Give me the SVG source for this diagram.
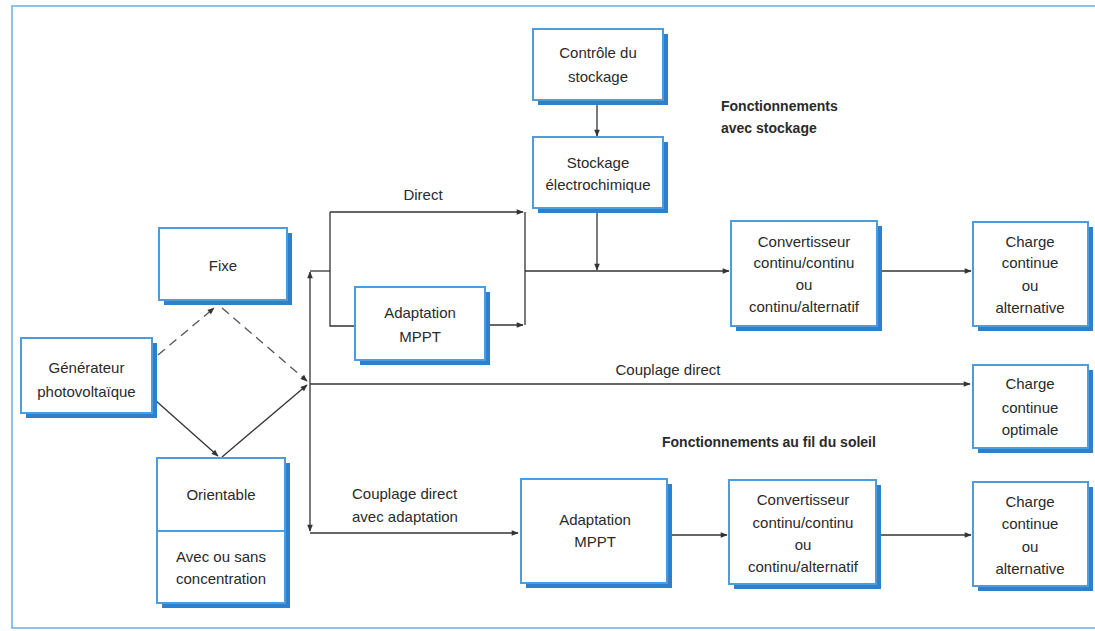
<svg xmlns="http://www.w3.org/2000/svg" width="1095" height="631" viewBox="0 0 1095 631">
<style>
.sh{fill:#2f80cc}
.bx{fill:#fff;stroke:#4b9ddf;stroke-width:2}
.t{font-family:"Liberation Sans",Arial,sans-serif;font-size:15px;fill:#2a2a2a;text-anchor:middle}
.tl{font-family:"Liberation Sans",Arial,sans-serif;font-size:15px;fill:#2a2a2a}
.b{font-family:"Liberation Sans",Arial,sans-serif;font-size:14px;font-weight:bold;fill:#2a2a2a}
.ln{fill:none;stroke:#333;stroke-width:1.3}
.ar{fill:none;stroke:#333;stroke-width:1.3;marker-end:url(#ah)}
.da{fill:none;stroke:#555;stroke-width:1.3;stroke-dasharray:9 6;marker-end:url(#ah)}
</style>
<defs>
<marker id="ah" viewBox="0 0 10 10" refX="9" refY="5" markerWidth="9" markerHeight="7" markerUnits="userSpaceOnUse" orient="auto">
<path d="M0,1 L10,5 L0,9 z" fill="#333"/>
</marker>
</defs>
<rect width="1095" height="631" fill="#fff"/>
<rect x="12" y="6" width="1100" height="622" fill="none" stroke="#72b3e2" stroke-width="1.6"/>

<g id="connectors">
<path class="da" d="M158,355 L214,308"/>
<path class="da" d="M222,308 L307,381"/>
<path class="ar" d="M155,400 L218,456"/>
<path class="ar" d="M222,457 L307,385"/>
<path class="ar" d="M310,383 L310,272"/>
<path class="ln" d="M310,271 H330"/>
<path class="ar" d="M310,383 L310,531"/>
<path class="ar" d="M310,533 H518"/>
<path class="ar" d="M310,384 H970"/>
<path class="ln" d="M330,212 V326 H355"/>
<path class="ar" d="M330,212 H523"/>
<path class="ar" d="M487,325 H523"/>
<path class="ln" d="M525,212 V325"/>
<path class="ar" d="M525,271 H729"/>
<path class="ar" d="M597,208 V270"/>
<path class="ar" d="M597,104 V136"/>
<path class="ar" d="M880,271 H971"/>
<path class="ar" d="M670,535 H727"/>
<path class="ar" d="M880,535 H971"/>
</g>

<g id="generateur">
<rect class="sh" x="26" y="343" width="131" height="75"/>
<rect class="bx" x="21" y="338" width="131" height="75"/>
<text class="t" x="86.5" y="373">Générateur</text>
<text class="t" x="86.5" y="397">photovoltaïque</text>
</g>
<g id="fixe">
<rect class="sh" x="164" y="233" width="128" height="72"/>
<rect class="bx" x="159" y="228" width="128" height="72"/>
<text class="t" x="223" y="271">Fixe</text>
</g>
<g id="orientable">
<rect class="sh" x="162" y="463" width="128" height="145"/>
<rect class="bx" x="157" y="458" width="128" height="145"/>
<line x1="157" y1="531" x2="285" y2="531" stroke="#4b9ddf" stroke-width="2"/>
<text class="t" x="221" y="500">Orientable</text>
<text class="t" x="221" y="562">Avec ou sans</text>
<text class="t" x="221" y="584">concentration</text>
</g>
<g id="controle">
<rect class="sh" x="538" y="34" width="130" height="71"/>
<rect class="bx" x="533" y="29" width="130" height="71"/>
<text class="t" x="598" y="58">Contrôle du</text>
<text class="t" x="598" y="82">stockage</text>
</g>
<g id="stockage">
<rect class="sh" x="538" y="142" width="130" height="71"/>
<rect class="bx" x="533" y="137" width="130" height="71"/>
<text class="t" x="598" y="168">Stockage</text>
<text class="t" x="598" y="190">électrochimique</text>
</g>
<g id="adaptation1">
<rect class="sh" x="360" y="292" width="130" height="73"/>
<rect class="bx" x="355" y="287" width="130" height="73"/>
<text class="t" x="420" y="318">Adaptation</text>
<text class="t" x="420" y="342">MPPT</text>
</g>
<g id="convertisseur1">
<rect class="sh" x="736" y="226" width="146" height="105"/>
<rect class="bx" x="731" y="221" width="146" height="105"/>
<text class="t" x="804" y="247">Convertisseur</text>
<text class="t" x="804" y="268">continu/continu</text>
<text class="t" x="804" y="290">ou</text>
<text class="t" x="804" y="312">continu/alternatif</text>
</g>
<g id="charge1">
<rect class="sh" x="978" y="227" width="115" height="104"/>
<rect class="bx" x="973" y="222" width="115" height="104"/>
<text class="t" x="1030" y="247">Charge</text>
<text class="t" x="1030" y="268">continue</text>
<text class="t" x="1030" y="291">ou</text>
<text class="t" x="1030" y="313">alternative</text>
</g>
<g id="chargeOptimale">
<rect class="sh" x="978" y="370" width="115" height="83"/>
<rect class="bx" x="973" y="365" width="115" height="83"/>
<text class="t" x="1030" y="389">Charge</text>
<text class="t" x="1030" y="413">continue</text>
<text class="t" x="1030" y="435">optimale</text>
</g>
<g id="adaptation2">
<rect class="sh" x="526" y="484" width="146" height="104"/>
<rect class="bx" x="521" y="479" width="146" height="104"/>
<text class="t" x="595" y="525">Adaptation</text>
<text class="t" x="595" y="547">MPPT</text>
</g>
<g id="convertisseur2">
<rect class="sh" x="734" y="485" width="147" height="104"/>
<rect class="bx" x="729" y="480" width="147" height="104"/>
<text class="t" x="803" y="505">Convertisseur</text>
<text class="t" x="803" y="528">continu/continu</text>
<text class="t" x="803" y="550">ou</text>
<text class="t" x="803" y="572">continu/alternatif</text>
</g>
<g id="charge2">
<rect class="sh" x="978" y="487" width="115" height="104"/>
<rect class="bx" x="973" y="482" width="115" height="104"/>
<text class="t" x="1030" y="507">Charge</text>
<text class="t" x="1030" y="529">continue</text>
<text class="t" x="1030" y="552">ou</text>
<text class="t" x="1030" y="574">alternative</text>
</g>

<g id="labels">
<text class="t" x="423" y="200">Direct</text>
<text class="t" x="668" y="375">Couplage direct</text>
<text class="tl" x="352" y="499">Couplage direct</text>
<text class="tl" x="352" y="522">avec adaptation</text>
<text class="b" x="721" y="111">Fonctionnements</text>
<text class="b" x="721" y="133">avec stockage</text>
<text class="b" x="662" y="447">Fonctionnements au fil du soleil</text>
</g>
</svg>
